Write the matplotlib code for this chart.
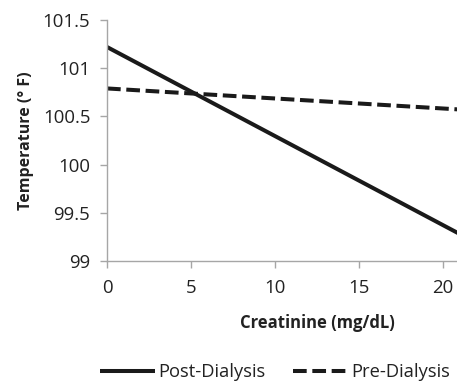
import matplotlib.pyplot as plt

# regression lines (endpoints)
creatinine = [0, 25]
post_dialysis = [101.22, 98.91]
pre_dialysis = [100.79, 100.53]

x_ticks = [0, 5, 10, 15, 20]
y_ticks = [99, 99.5, 100, 100.5, 101, 101.5]
y_tick_labels = ["99", "99.5", "100", "100.5", "101", "101.5"]

plt.rcParams["font.family"] = ["Open Sans", "DejaVu Sans"]

W, H = 457, 383
fig = plt.figure(figsize=(W / 100, H / 100), dpi=100)

# axes extends past the right edge: the original figure is cropped there
left, right, top, bottom = 107, 527, 20, 261
ax = fig.add_axes([left / W, 1 - bottom / H, (right - left) / W, (bottom - top) / H])

ax.plot(creatinine, post_dialysis, color="#1a1a1a", lw=2.9, label="Post-Dialysis",
        solid_capstyle="butt")
ax.plot(creatinine, pre_dialysis, color="#1a1a1a", lw=2.9, label="Pre-Dialysis",
        linestyle=(0, (3.4, 1.4)), dash_capstyle="butt")

ax.set_xlim(0, 25)
ax.set_ylim(99, 101.5)
ax.set_xticks(x_ticks)
ax.set_yticks(y_ticks)
ax.set_yticklabels(y_tick_labels)

for side in ["top", "right"]:
    ax.spines[side].set_visible(False)
for side in ["left", "bottom"]:
    ax.spines[side].set_color("#a6a6a6")
    ax.spines[side].set_linewidth(1.0)
ax.tick_params(axis="both", colors="#a6a6a6", labelcolor="#222222",
               direction="out", length=5, width=1.0, labelsize=13.4)
ax.tick_params(axis="x", pad=8)
ax.tick_params(axis="y", pad=7)

ax.set_xlabel("Creatinine (mg/dL)", fontsize=12, fontweight="bold",
              color="#222222", labelpad=12)
ax.set_ylabel("Temperature (° F)", fontsize=11.5, fontweight="bold",
              color="#222222", labelpad=6)

handles, labels = ax.get_legend_handles_labels()
fig.legend(handles, labels, loc="center", bbox_to_anchor=(275 / W, 1 - 372 / H),
           ncol=2, frameon=False, fontsize=13.2, handlelength=3.0,
           handletextpad=0.2, columnspacing=1.5, labelcolor="#222222")

fig.savefig("out.png", dpi=100)
